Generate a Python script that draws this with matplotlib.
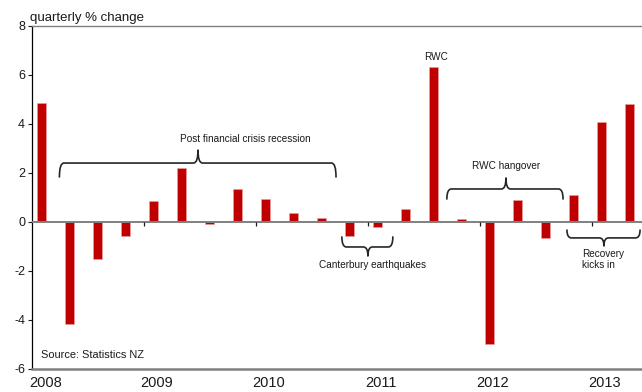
import matplotlib
matplotlib.use("Agg")
import matplotlib.pyplot as plt
from matplotlib.path import Path
from matplotlib.patches import PathPatch
import numpy as np

plt.rcParams["font.family"] = ["Liberation Sans", "DejaVu Sans"]
plt.rcParams["axes.unicode_minus"] = False

# quarterly % change, 2008Q1 - 2013Q2
quarters = [f"{y}Q{q}" for y in range(2008, 2014) for q in range(1, 5)][:22]
pct_change = [4.87, -4.19, -1.53, -0.58, 0.86, 2.20, -0.10, 1.34, 0.92, 0.37, 0.15,
              -0.58, -0.21, 0.52, 6.34, 0.13, -5.00, 0.89, -0.66, 1.10, 4.07, 4.83]
years = ["2008", "2009", "2010", "2011", "2012", "2013"]

BAR = "#c00000"
GREY = "#808080"
INK = "#1a1a1a"


def brace(ax, x0, x1, xt, y, y_end, y_tip, r=0.16):
    """Curly bracket from x0 to x1 along y, ends curling to y_end, tip at (xt, y_tip)."""
    verts = [
        (x0, y_end), (x0, y), (x0 + r, y),
        (xt - r, y),
        (xt, y), (xt, y_tip),
        (xt, y), (xt + r, y),
        (x1 - r, y),
        (x1, y), (x1, y_end),
    ]
    codes = [Path.MOVETO, Path.CURVE3, Path.CURVE3, Path.LINETO,
             Path.CURVE3, Path.CURVE3, Path.CURVE3, Path.CURVE3,
             Path.LINETO, Path.CURVE3, Path.CURVE3]
    ax.add_patch(PathPatch(Path(verts, codes), fill=False, edgecolor="#262626",
                           linewidth=1.2, capstyle="round", joinstyle="round"))


fig = plt.figure(figsize=(6.42, 3.92), dpi=100)
ax = fig.add_axes([0.0498, 0.0597, 0.9502, 0.874])

x = np.arange(len(pct_change))
ax.bar(x, pct_change, width=0.32, color=BAR, edgecolor="#e8a0a8", linewidth=0.4, zorder=2)
ax.axhline(0, color=GREY, linewidth=1.4, zorder=3)

# year boundary ticks on the zero line
bounds = np.arange(3.65, len(pct_change), 4)
ax.vlines(bounds, -0.16, 0, color=INK, linewidth=0.9, zorder=3)

ax.set_xlim(-0.34, 21.45)
ax.set_ylim(-6, 8)
ax.set_yticks(np.arange(-6, 9, 2))
ax.set_xticks(np.arange(len(years)) * 4 + 0.13)
ax.set_xticklabels(years)
ax.tick_params(axis="x", length=0, labelsize=10.5, pad=5, colors=INK)
ax.tick_params(axis="y", length=3, width=0.8, labelsize=9, pad=2, colors=INK, direction="out")

for side in ("top", "bottom"):
    ax.spines[side].set_color(GREY)
ax.spines["top"].set_linewidth(1.0)
ax.spines["bottom"].set_linewidth(1.8)
ax.spines["left"].set_color("black")
ax.spines["left"].set_linewidth(0.9)
ax.spines["right"].set_visible(False)

fig.text(0.046, 0.94, "quarterly % change", fontsize=9.5, color=INK, ha="left", va="bottom")
ax.text(0.0, -5.45, "Source: Statistics NZ", fontsize=7.9, color=INK, ha="left", va="center")

# annotations
brace(ax, 0.64, 10.52, 5.59, 2.40, 1.83, 2.93)
ax.text(7.27, 3.38, "Post financial crisis recession", fontsize=7.2, color=INK, ha="center", va="center")

brace(ax, 10.73, 12.55, 11.66, -1.03, -0.62, -1.40)
ax.text(11.84, -1.77, "Canterbury earthquakes", fontsize=7.2, color=INK, ha="center", va="center")

ax.text(14.09, 6.73, "RWC", fontsize=7.2, color=INK, ha="center", va="center")

brace(ax, 14.48, 18.63, 16.59, 1.34, 0.93, 1.79)
ax.text(16.59, 2.28, "RWC hangover", fontsize=7.2, color=INK, ha="center", va="center")

brace(ax, 18.77, 21.38, 20.09, -0.66, -0.34, -0.99)
ax.text(19.30, -1.55, "Recovery\nkicks in", fontsize=7.2, color=INK, ha="left", va="center",
        linespacing=1.2)

fig.savefig("out.png", dpi=100, facecolor="white")
